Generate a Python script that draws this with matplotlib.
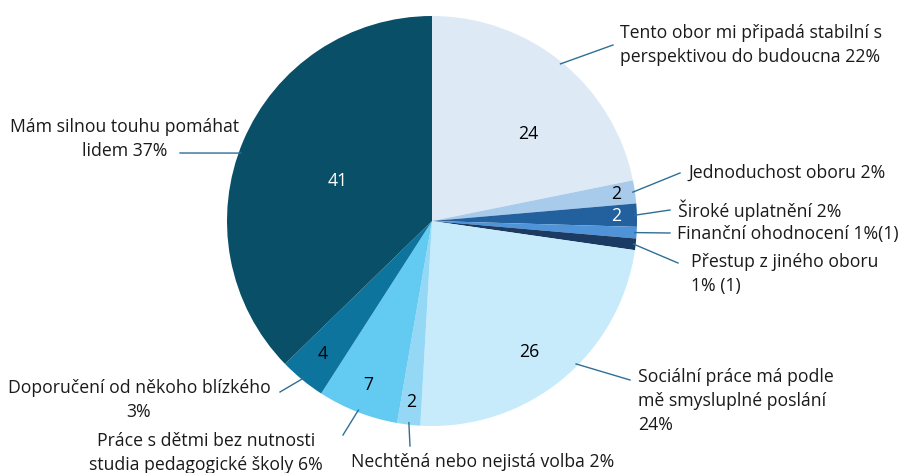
import numpy as np
import matplotlib.pyplot as plt

# pie data, clockwise from 12 o'clock
counts = [24, 2, 2, 1, 1, 26, 2, 7, 4, 41]
labels = [
    "Tento obor mi připadá stabilní s\nperspektivou do budoucna 22%",
    "Jednoduchost oboru 2%",
    "Široké uplatnění 2%",
    "Finanční ohodnocení 1%(1)",
    "Přestup z jiného oboru\n1% (1)",
    "Sociální práce má podle\nmě smysluplné poslání\n24%",
    "Nechtěná nebo nejistá volba 2%",
    "Práce s dětmi bez nutnosti\nstudia pedagogické školy 6%",
    "Doporučení od někoho blízkého\n3%",
    "Mám silnou touhu pomáhat\nlidem 37%",
]
colors = ["#DDEAF6", "#A9CBEB", "#22609E", "#4F94D9", "#1B3B63",
          "#C8EBFB", "#94D8F5", "#63CBF2", "#0C749D", "#0A4F68"]
value_colors = ["black", "black", "white", None, None,
                "black", "black", "black", "black", "white"]
# value label placement: radius fraction and position along slice
value_radius = [0.635, 0.91, 0.9, None, None, 0.795, 0.89, 0.86, 0.84, 0.5]
value_frac = [0.61, 0.5, 0.5, 0.5, 0.5, 0.53, 0.5, 0.5, 0.5, 0.5]

# outside label layout in pixels: text anchor, alignment, leader line
label_pos = [(620, 45, "left"), (688, 173, "left"), (678, 210, "left"),
             (677, 234, "left"), (691, 274, "left"), (638, 401, "left"),
             (483, 462, "center"), (206, 453, "center"), (139, 400, "center"),
             (125, 139, "center")]
leader_end = [(613, 45), (680, 173), (670, 210), (670, 233), (678, 263),
              (630, 380), (410, 446), (343, 435), (280, 392), (180, 153)]
# where along the slice the leader starts (0.5 = middle)
leader_frac = [0.5, 0.5, 0.5, 0.5, 0.5, 0.43, 0.5, 0.5, 0.5, 0.475]

W, H = 901, 473
cx, cy, R = 432, 221, 205
FONT = "Open Sans"
FS = 12.7

fig = plt.figure(figsize=(W / 100, H / 100), dpi=100)
ax = fig.add_axes([0, 0, 1, 1])

wedges, _ = ax.pie(counts, colors=colors, startangle=-90, counterclock=True,
                   center=(cx, cy), radius=R,
                   wedgeprops=dict(linewidth=0))
ax.set_xlim(0, W)
ax.set_ylim(H, 0)
ax.axis("off")

for i, w in enumerate(wedges):
    span = w.theta2 - w.theta1
    if value_radius[i] is not None:
        a = np.deg2rad(w.theta1 + value_frac[i] * span)
        r = value_radius[i] * R
        ax.text(cx + r * np.cos(a), cy + r * np.sin(a), str(counts[i]),
                ha="center", va="center", fontsize=FS, family=FONT,
                color=value_colors[i])
    a = np.deg2rad(w.theta1 + leader_frac[i] * span)
    sx, sy = cx + 0.99 * R * np.cos(a), cy + 0.99 * R * np.sin(a)
    ex, ey = leader_end[i]
    ax.plot([sx, ex], [sy, ey], color="#2E6F95", lw=1)
    tx, ty, ha = label_pos[i]
    ax.text(tx, ty, labels[i], ha=ha, va="center", multialignment=ha,
            fontsize=FS, family=FONT, color="#1a1a1a", linespacing=1.4)

fig.savefig("out.png", dpi=100)
